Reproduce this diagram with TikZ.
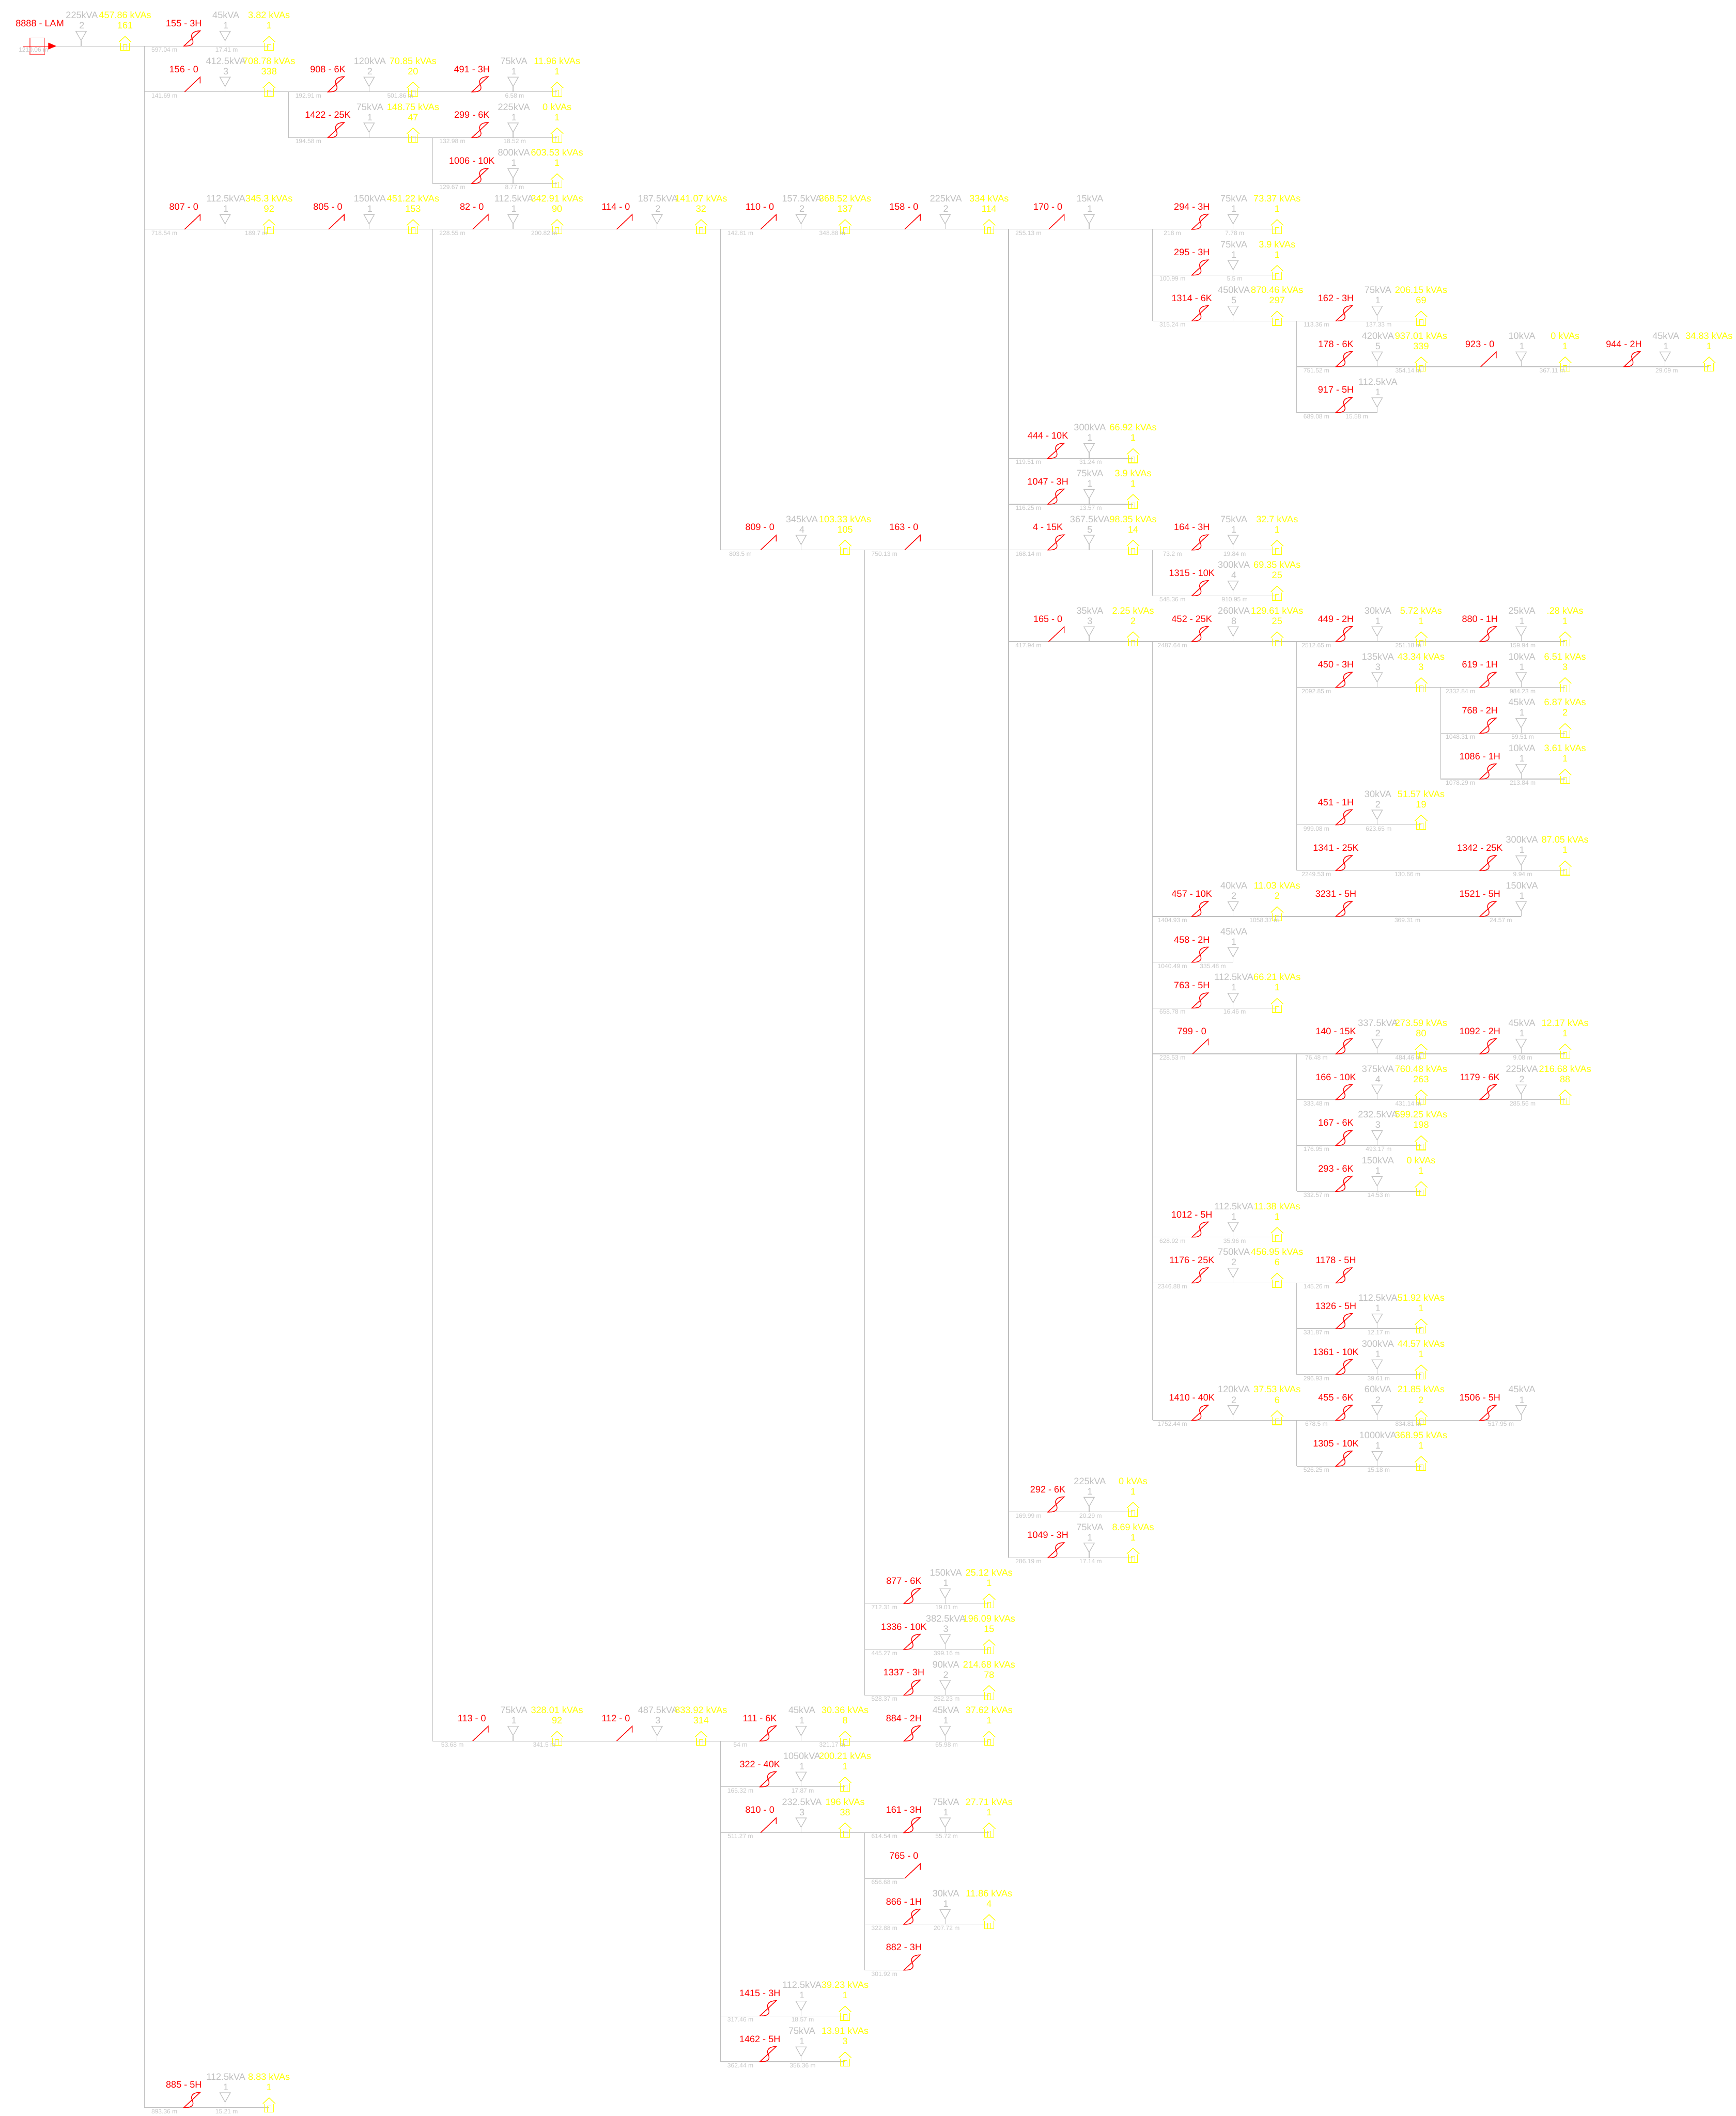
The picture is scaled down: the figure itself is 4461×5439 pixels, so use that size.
\documentclass[tikz,border=0pt]{standalone}
\usepackage{fontspec}
\setmainfont{Liberation Sans}
\usepackage{xcolor}
\usepackage{tikz}
\usetikzlibrary{arrows.meta, backgrounds}
\definecolor{wiregray}{rgb}{0.75,0.75,0.75}
\definecolor{distgray}{rgb}{0.78,0.78,0.78}
\definecolor{switchred}{rgb}{1,0,0}
\definecolor{loadyellow}{rgb}{1,1,0}

\begin{document}
\begin{tikzpicture}[
  x=0.5pt, y=-0.5pt,
  wire/.style      = {draw=wiregray, line width=0.8pt},
  swline/.style    = {draw=switchred, line width=0.95pt},
  xfmr/.style      = {draw=wiregray, line width=0.8pt},
  houseline/.style = {draw=loadyellow, line width=0.85pt},
  nametext/.style  = {anchor=base, inner sep=0pt, text=switchred, font=\fontsize{12}{14}\selectfont},
  kvatext/.style   = {anchor=base, inner sep=0pt, text=wiregray, font=\fontsize{12}{14}\selectfont},
  loadtext/.style  = {anchor=base, inner sep=0pt, text=loadyellow, font=\fontsize{12}{14}\selectfont},
  disttext/.style  = {anchor=base, inner sep=0pt, text=distgray, font=\fontsize{8}{10}\selectfont},
  rootbox/.style   = {draw=switchred!60, line width=0.75pt, minimum width=19pt, minimum height=21pt, inner sep=0pt},
  feedarrow/.style = {draw=switchred, line width=0.75pt, -{Triangle[length=10.5pt, width=8.5pt]}},
]
\useasboundingbox (0,0) rectangle (4461,5439);

%% ==================== SOURCE ====================
\node[rootbox] (root) at (96,118.4) {};
\coordinate (feed) at (60,118.4);
\coordinate (tip) at (145,118.4);
\draw[feedarrow] (feed) -- (tip);
\node[disttext] (rootdist) at (86,133.6) {1210.06 m};

%% ==================== ALL UNITS: col/row/switch/name/kVA/n/load/count/first/second/pos ====================
\foreach \col/\rw/\swt/\nm/\kva/\num/\load/\cnt/\da/\db/\dbx in {
  0/0//8888 - LAM/225kVA/2/457.86 kVAs/161///0,
  1/0/s/155 - 3H/45kVA/1/3.82 kVAs/1/597.04 m/17.41 m/211,
  1/1/o/156 - 0/412.5kVA/3/708.78 kVAs/338/141.69 m//0,
  2/1/s/908 - 6K/120kVA/2/70.85 kVAs/20/192.91 m/501.86 m/287,
  3/1/s/491 - 3H/75kVA/1/11.96 kVAs/1//6.58 m/211,
  2/2/s/1422 - 25K/75kVA/1/148.75 kVAs/47/194.58 m//0,
  3/2/s/299 - 6K/225kVA/1/0 kVAs/1/132.98 m/18.52 m/211,
  3/3/s/1006 - 10K/800kVA/1/603.53 kVAs/1/129.67 m/8.77 m/211,
  1/4/o/807 - 0/112.5kVA/1/345.3 kVAs/92/718.54 m/189.7 m/287,
  2/4/o/805 - 0/150kVA/1/451.22 kVAs/153///0,
  3/4/o/82 - 0/112.5kVA/1/342.91 kVAs/90/228.55 m/200.82 m/287,
  4/4/o/114 - 0/187.5kVA/2/141.07 kVAs/32///0,
  5/4/o/110 - 0/157.5kVA/2/368.52 kVAs/137/142.81 m/348.88 m/287,
  6/4/o/158 - 0/225kVA/2/334 kVAs/114///0,
  7/4/o/170 - 0/15kVA/1///255.13 m//0,
  8/4/s/294 - 3H/75kVA/1/73.37 kVAs/1/218 m/7.78 m/211,
  8/5/s/295 - 3H/75kVA/1/3.9 kVAs/1/100.99 m/5.5 m/211,
  8/6/s/1314 - 6K/450kVA/5/870.46 kVAs/297/315.24 m//0,
  9/6/s/162 - 3H/75kVA/1/206.15 kVAs/69/113.36 m/137.33 m/211,
  9/7/s/178 - 6K/420kVA/5/937.01 kVAs/339/751.52 m/354.14 m/287,
  10/7/o/923 - 0/10kVA/1/0 kVAs/1//367.11 m/287,
  11/7/s/944 - 2H/45kVA/1/34.83 kVAs/1//29.09 m/211,
  9/8/s/917 - 5H/112.5kVA/1///689.08 m/15.58 m/155,
  7/9/s/444 - 10K/300kVA/1/66.92 kVAs/1/119.51 m/31.24 m/211,
  7/10/s/1047 - 3H/75kVA/1/3.9 kVAs/1/116.25 m/13.57 m/211,
  5/11/o/809 - 0/345kVA/4/103.33 kVAs/105/803.5 m//0,
  6/11/o/163 - 0/////750.13 m//0,
  7/11/s/4 - 15K/367.5kVA/5/98.35 kVAs/14/168.14 m//0,
  8/11/s/164 - 3H/75kVA/1/32.7 kVAs/1/73.2 m/19.84 m/211,
  8/12/s/1315 - 10K/300kVA/4/69.35 kVAs/25/548.36 m/910.95 m/211,
  7/13/o/165 - 0/35kVA/3/2.25 kVAs/2/417.94 m//0,
  8/13/s/452 - 25K/260kVA/8/129.61 kVAs/25/2487.64 m//0,
  9/13/s/449 - 2H/30kVA/1/5.72 kVAs/1/2512.65 m/251.18 m/287,
  10/13/s/880 - 1H/25kVA/1/.28 kVAs/1//159.94 m/211,
  9/14/s/450 - 3H/135kVA/3/43.34 kVAs/3/2092.85 m//0,
  10/14/s/619 - 1H/10kVA/1/6.51 kVAs/3/2332.84 m/984.23 m/211,
  10/15/s/768 - 2H/45kVA/1/6.87 kVAs/2/1048.31 m/59.51 m/211,
  10/16/s/1086 - 1H/10kVA/1/3.61 kVAs/1/1078.29 m/213.84 m/211,
  9/17/s/451 - 1H/30kVA/2/51.57 kVAs/19/999.08 m/623.65 m/211,
  9/18/s/1341 - 25K/////2249.53 m/130.66 m/285,
  10/18/s/1342 - 25K/300kVA/1/87.05 kVAs/1//9.94 m/211,
  8/19/s/457 - 10K/40kVA/2/11.03 kVAs/2/1404.93 m/1058.37 m/287,
  9/19/s/3231 - 5H//////369.31 m/285,
  10/19/s/1521 - 5H/150kVA/1////24.57 m/155,
  8/20/s/458 - 2H/45kVA/1///1040.49 m/335.48 m/155,
  8/21/s/763 - 5H/112.5kVA/1/66.21 kVAs/1/658.78 m/16.46 m/211,
  8/22/o/799 - 0/////228.53 m//0,
  9/22/s/140 - 15K/337.5kVA/2/273.59 kVAs/80/76.48 m/484.46 m/287,
  10/22/s/1092 - 2H/45kVA/1/12.17 kVAs/1//9.08 m/211,
  9/23/s/166 - 10K/375kVA/4/760.48 kVAs/263/333.48 m/431.14 m/287,
  10/23/s/1179 - 6K/225kVA/2/216.68 kVAs/88//285.56 m/211,
  9/24/s/167 - 6K/232.5kVA/3/599.25 kVAs/198/176.95 m/493.17 m/211,
  9/25/s/293 - 6K/150kVA/1/0 kVAs/1/332.57 m/14.53 m/211,
  8/26/s/1012 - 5H/112.5kVA/1/11.38 kVAs/1/628.92 m/35.96 m/211,
  8/27/s/1176 - 25K/750kVA/2/456.95 kVAs/6/2346.88 m//0,
  9/27/s/1178 - 5H/////145.26 m//0,
  9/28/s/1326 - 5H/112.5kVA/1/51.92 kVAs/1/331.87 m/12.17 m/211,
  9/29/s/1361 - 10K/300kVA/1/44.57 kVAs/1/296.93 m/39.61 m/211,
  8/30/s/1410 - 40K/120kVA/2/37.53 kVAs/6/1752.44 m//0,
  9/30/s/455 - 6K/60kVA/2/21.85 kVAs/2/678.5 m/834.81 m/287,
  10/30/s/1506 - 5H/45kVA/1////517.95 m/155,
  9/31/s/1305 - 10K/1000kVA/1/368.95 kVAs/1/526.25 m/15.18 m/211,
  7/32/s/292 - 6K/225kVA/1/0 kVAs/1/169.99 m/20.29 m/211,
  7/33/s/1049 - 3H/75kVA/1/8.69 kVAs/1/286.19 m/17.14 m/211,
  6/34/s/877 - 6K/150kVA/1/25.12 kVAs/1/712.31 m/19.01 m/211,
  6/35/s/1336 - 10K/382.5kVA/3/196.09 kVAs/15/445.27 m/399.16 m/211,
  6/36/s/1337 - 3H/90kVA/2/214.68 kVAs/78/528.37 m/252.23 m/211,
  3/37/o/113 - 0/75kVA/1/328.01 kVAs/92/53.68 m/341.5 m/287,
  4/37/o/112 - 0/487.5kVA/3/833.92 kVAs/314///0,
  5/37/s/111 - 6K/45kVA/1/30.36 kVAs/8/54 m/321.17 m/287,
  6/37/s/884 - 2H/45kVA/1/37.62 kVAs/1//65.98 m/211,
  5/38/s/322 - 40K/1050kVA/1/200.21 kVAs/1/165.32 m/17.87 m/211,
  5/39/o/810 - 0/232.5kVA/3/196 kVAs/38/511.27 m//0,
  6/39/s/161 - 3H/75kVA/1/27.71 kVAs/1/614.54 m/55.72 m/211,
  6/40/o/765 - 0/////656.68 m//0,
  6/41/s/866 - 1H/30kVA/1/11.86 kVAs/4/322.88 m/207.72 m/211,
  6/42/s/882 - 3H/////301.92 m//0,
  5/43/s/1415 - 3H/112.5kVA/1/39.23 kVAs/1/317.46 m/18.57 m/211,
  5/44/s/1462 - 5H/75kVA/1/13.91 kVAs/3/362.44 m/356.36 m/211,
  1/45/s/885 - 5H/112.5kVA/1/8.83 kVAs/1/893.36 m/15.21 m/211%
} {
  \pgfmathsetmacro\vx{1.4+370.1*\col}
  \pgfmathsetmacro\ly{118.4+117.75*\rw}
  \begin{scope}[shift={(\vx,\ly)}]
    \coordinate (bus\col-\rw) at (0,0);
    \coordinate (sw\col-\rw) at (101,0);
    \coordinate (tr\col-\rw) at (207,0);
    \coordinate (ho\col-\rw) at (320,0);
    \node[nametext] (name\col-\rw) at (101,-50) {\nm};
    %% switch symbol
    \if\swt s
      \draw[swline] (sw\col-\rw) .. controls (131,1) and (125,-13) .. (122,-20)
            .. controls (118,-29) and (123,-39) .. (143,-39) -- cycle;
    \fi
    \if\swt o
      \draw[swline] (103,0) -- (143,-38) -- (143,-22);
    \fi
    %% transformer symbol
    \ifx\kva\empty\else
      \draw[xfmr] (193.5,-38) -- (220.5,-38) -- (207,-14) -- cycle;
      \draw[xfmr] (207,-14) -- (tr\col-\rw);
      \node[kvatext] (kva\col-\rw) at (209,-71) {\kva};
      \node[kvatext] (num\col-\rw) at (209,-44.4) {\num};
    \fi
    %% load symbol
    \ifx\load\empty\else
      \draw[houseline] (304,-10) -- (320,-25) -- (336,-10);
      \draw[houseline] (308,-8.5) -- (308,11.5) -- (332,11.5) -- (332,-8.5);
      \draw[houseline, line width=0.5pt] (315.4,11.5) -- (315.4,-4) -- (324.6,-4) -- (324.6,11.5);
      \node[loadtext] (load\col-\rw) at (320,-71) {\load};
      \node[loadtext] (cnt\col-\rw) at (320,-44.4) {\cnt};
    \fi
    %% distance labels
    \ifx\da\empty\else
      \node[disttext] (da\col-\rw) at (51,15.2) {\da};
    \fi
    \ifx\db\empty\else
      \node[disttext] (db\col-\rw) at (\dbx,15.2) {\db};
    \fi
  \end{scope}
}

%% ==================== CONNECTORS ====================
\begin{scope}[on background layer]
  \draw[wire] (tip) -- (ho1-0);
  %% rows
  \foreach \from/\to in {
    bus1-1/ho3-1, bus2-2/ho3-2, bus3-3/ho3-3, bus1-4/ho8-4, bus8-5/ho8-5,
    bus8-6/ho9-6, bus9-7/ho11-7, bus9-8/tr9-8, bus7-9/ho7-9, bus7-10/ho7-10,
    bus5-11/ho8-11, bus8-12/ho8-12, bus7-13/ho10-13, bus9-14/ho10-14,
    bus10-15/ho10-15, bus10-16/ho10-16, bus9-17/ho9-17, bus9-18/ho10-18,
    bus8-19/tr10-19, bus8-20/tr8-20, bus8-21/ho8-21, bus8-22/ho10-22,
    bus9-23/ho10-23, bus9-24/ho9-24, bus9-25/ho9-25, bus8-26/ho8-26,
    bus8-27/sw9-27, bus9-28/ho9-28, bus9-29/ho9-29, bus8-30/tr10-30,
    bus9-31/ho9-31, bus7-32/ho7-32, bus7-33/ho7-33, bus6-34/ho6-34,
    bus6-35/ho6-35, bus6-36/ho6-36, bus3-37/ho6-37, bus5-38/ho5-38,
    bus5-39/ho6-39, bus6-40/sw6-40, bus6-41/ho6-41, bus6-42/sw6-42,
    bus5-43/ho5-43, bus5-44/ho5-44, bus1-45/ho1-45%
  } {
    \draw[wire] (\from) -- (\to);
  }
  %% branches
  \foreach \from/\to in {
    bus1-0/bus1-45, bus2-1/bus2-2, bus3-2/bus3-3, bus3-4/bus3-37, bus5-4/bus5-11,
    bus5-37/bus5-44, bus6-11/bus6-36, bus6-39/bus6-42, bus7-4/bus7-33,
    bus8-4/bus8-6, bus8-11/bus8-12, bus8-13/bus8-30, bus9-6/bus9-8,
    bus9-13/bus9-18, bus9-22/bus9-25, bus9-27/bus9-29, bus9-30/bus9-31,
    bus10-14/bus10-16%
  } {
    \draw[wire] (\from) -- (\to);
  }
\end{scope}

\end{tikzpicture}
\end{document}
